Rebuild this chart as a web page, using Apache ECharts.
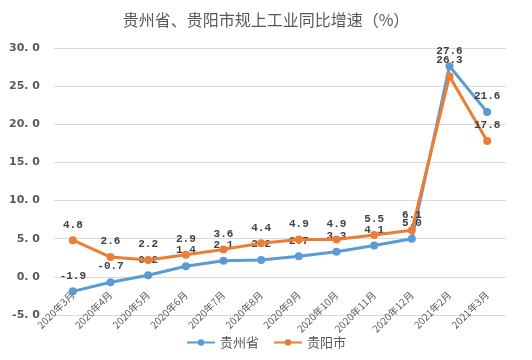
<!DOCTYPE html>
<html><head><meta charset="utf-8">
<script src="https://cdn.jsdelivr.net/npm/echarts@6/dist/echarts.min.js"></script>
<style>html,body{margin:0;padding:0;background:#fff}#c{width:532px;height:360px}</style>
</head><body><div id="c"></div>
<script>
const categories = ['2020年3月','2020年4月','2020年5月','2020年6月','2020年7月','2020年8月','2020年9月','2020年10月','2020年11月','2020年12月','2021年2月','2021年3月'];
const guizhou = [-1.9, -0.7, 0.2, 1.4, 2.1, 2.2, 2.7, 3.3, 4.1, 5.0, 27.6, 21.6];
const guiyang = [4.8, 2.6, 2.2, 2.9, 3.6, 4.4, 4.9, 4.9, 5.5, 6.1, 26.3, 17.8];
const yTicks = [-5, 0, 5, 10, 15, 20, 25, 30];

const chart = echarts.init(document.getElementById('c'));
const labelStyle = {show:true, position:'top', distance:6, color:'#404040', fontFamily:'Liberation Mono, DejaVu Sans Mono, monospace', fontWeight:'bold', fontSize:11, formatter: p => p.value.toFixed(1)};
chart.setOption({
  animation:false,
  title:{text:'贵州省、贵阳市规上工业同比增速（%）', left:'center', top:7, textStyle:{fontSize:16, fontWeight:'normal', color:'#595959', fontFamily:'Noto Sans CJK SC'}},
  legend:{bottom:6, left:'center', itemWidth:28, itemHeight:8, itemGap:14, textStyle:{fontSize:13, color:'#595959', fontFamily:'Noto Sans CJK SC'}, data:['贵州省','贵阳市']},
  grid:{left:54, right:26, top:48, bottom:45},
  xAxis:{type:'category', data:categories, boundaryGap:true,
    axisLine:{show:false, onZero:false}, axisTick:{show:false},
    axisLabel:{rotate:45, interval:0, fontSize:10, color:'#595959', margin:-22, fontFamily:'Noto Sans CJK SC'}},
  yAxis:{type:'value', min:yTicks[0], max:yTicks[yTicks.length-1], interval:5,
    axisLine:{show:false}, axisTick:{show:false},
    splitLine:{lineStyle:{color:'#d9d9d9'}},
    axisLabel:{fontSize:11, fontWeight:'bold', color:'#595959', margin:14, fontFamily:'DejaVu Sans', formatter: v => v.toFixed(1).replace('.', '. ')}},
  series:[
    {name:'贵州省', type:'line', data:guizhou, symbol:'circle', symbolSize:8, itemStyle:{color:'#5B9BD5'}, lineStyle:{width:3, color:'#5B9BD5'}, label:labelStyle, z:3},
    {name:'贵阳市', type:'line', data:guiyang, symbol:'circle', symbolSize:8, itemStyle:{color:'#ED7D31'}, lineStyle:{width:3, color:'#ED7D31'}, label:labelStyle, z:4}
  ]
});
</script></body></html>
